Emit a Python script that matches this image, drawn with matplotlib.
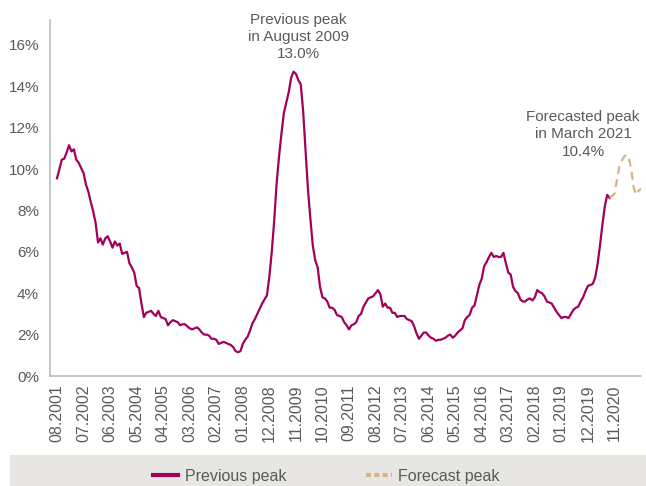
import numpy as np
import matplotlib.pyplot as plt
from matplotlib.lines import Line2D
from matplotlib.patches import Rectangle

plt.rcParams['font.family'] = ['Liberation Sans', 'DejaVu Sans']

# monthly rate (%) starting 08.2001
hist_rate = [
    9.55, 10.0, 10.45, 10.5, 10.8, 11.15, 10.85, 10.95, 10.45, 10.3, 10.05, 9.8,
    9.25, 8.9, 8.4, 7.95, 7.4, 6.45, 6.65, 6.35, 6.65, 6.75, 6.5, 6.2,
    6.5, 6.3, 6.4, 5.9, 5.95, 6.0, 5.45, 5.25, 5.0, 4.35, 4.25, 3.5,
    2.85, 3.05, 3.1, 3.15, 3.0, 2.9, 3.15, 2.85, 2.8, 2.75, 2.45, 2.6,
    2.7, 2.65, 2.6, 2.45, 2.5, 2.5, 2.4, 2.3, 2.25, 2.3, 2.35, 2.25,
    2.1, 2.0, 2.0, 1.95, 1.8, 1.8, 1.75, 1.55, 1.6, 1.65, 1.6, 1.55,
    1.5, 1.4, 1.2, 1.15, 1.2, 1.55, 1.75, 1.9, 2.2, 2.55, 2.75, 3.0,
    3.25, 3.5, 3.7, 3.9, 4.8, 6.0, 7.5, 9.3, 10.6, 11.7, 12.7, 13.2,
    13.7, 14.4, 14.7, 14.6, 14.3, 14.1, 12.8, 10.9, 9.0, 7.6, 6.3, 5.6,
    5.25, 4.3, 3.8, 3.75, 3.6, 3.3, 3.3, 3.2, 2.95, 2.9, 2.85, 2.6,
    2.45, 2.25, 2.45, 2.5, 2.6, 2.9, 3.0, 3.35, 3.55, 3.75, 3.8, 3.85,
    4.0, 4.15, 3.95, 3.35, 3.5, 3.3, 3.3, 3.05, 3.05, 2.85, 2.9, 2.9,
    2.9, 2.75, 2.7, 2.65, 2.4, 2.05, 1.8, 1.95, 2.1, 2.1, 1.95, 1.85,
    1.8, 1.7, 1.75, 1.75, 1.8, 1.85, 1.95, 2.0, 1.85, 1.95, 2.1, 2.2,
    2.3, 2.7, 2.85, 2.95, 3.3, 3.4, 3.9, 4.4, 4.7, 5.3, 5.5, 5.75,
    5.95, 5.75, 5.8, 5.75, 5.75, 5.95, 5.45, 5.0, 4.9, 4.3, 4.1, 4.0,
    3.7, 3.6, 3.6, 3.7, 3.75, 3.65, 3.8, 4.15, 4.05, 4.0, 3.85, 3.6,
    3.55, 3.5, 3.3, 3.1, 2.95, 2.8, 2.85, 2.85, 2.8, 3.0, 3.2, 3.3,
    3.35, 3.6, 3.8, 4.1, 4.35, 4.4, 4.45, 4.75, 5.4, 6.3, 7.3, 8.2,
    8.75, 8.6,
]
# forecast starts at the last historical month
forecast_rate = [8.6, 8.7, 8.8, 9.45, 10.1, 10.4, 10.6, 10.7, 10.5, 9.95,
                 9.1, 8.75, 8.95, 9.05]

tick_labels = ["08.2001", "07.2002", "06.2003", "05.2004", "04.2005", "03.2006",
               "02.2007", "01.2008", "12.2008", "11.2009", "10.2010", "09.2011",
               "08.2012", "07.2013", "06.2014", "05.2015", "04.2016", "03.2017",
               "02.2018", "01.2019", "12.2019", "11.2020"]

hist_x = np.arange(len(hist_rate))
fc_x = np.arange(len(forecast_rate)) + len(hist_rate) - 1

purple = "#a2005b"
tan = "#d6b47f"
grey_txt = "#5a5a5a"

fig = plt.figure(figsize=(6.46, 4.86), dpi=100)
ax = fig.add_axes([50/646, 110/486, 591/646, 356/486])

ax.plot(hist_x, hist_rate, color=purple, lw=1.6, solid_joinstyle="round")
ax.plot(fc_x, forecast_rate, color=tan, lw=1.6, ls=(0, (3.5, 2.5)))

ax.set_xlim(-2.9, 242)
ax.set_ylim(0, 17.2)
ax.set_yticks(np.arange(0, 17, 2))
ax.set_yticklabels([f"{v}%" for v in range(0, 17, 2)])
ax.set_xticks(np.arange(len(tick_labels)) * 11)
ax.set_xticklabels(tick_labels, rotation=90)
ax.tick_params(length=0, colors=grey_txt)
ax.tick_params(axis="y", pad=8, labelsize=11)
ax.tick_params(axis="x", pad=6, labelsize=11.5)

for s in ["top", "right"]:
    ax.spines[s].set_visible(False)
for s in ["left", "bottom"]:
    ax.spines[s].set_color("#bdbdbd")
    ax.spines[s].set_linewidth(1.2)

ax.text(100, 15.2, "Previous peak\nin August 2009\n13.0%", ha="center", va="bottom",
        fontsize=11, color=grey_txt, linespacing=1.3, clip_on=False)
ax.text(218, 10.5, "Forecasted peak\nin March 2021\n10.4%", ha="center", va="bottom",
        fontsize=11, color=grey_txt, linespacing=1.3)

# legend band
fig.patches.append(Rectangle((10/646, 0), 1 - 10/646, 31/486, transform=fig.transFigure,
                             facecolor="#e8e6e2", edgecolor="none", zorder=0))
handles = [Line2D([], [], color=purple, lw=3),
           Line2D([], [], color=tan, lw=3, ls=(0, (1.2, 0.8)))]
fig.legend(handles, ["Previous peak", "Forecast peak"], loc="center",
           bbox_to_anchor=(0.505, 10/486), ncol=2, frameon=False, fontsize=11.5,
           handlelength=1.6, handletextpad=0.4, columnspacing=5.0,
           labelcolor=grey_txt)

fig.savefig("out.png", dpi=100)
